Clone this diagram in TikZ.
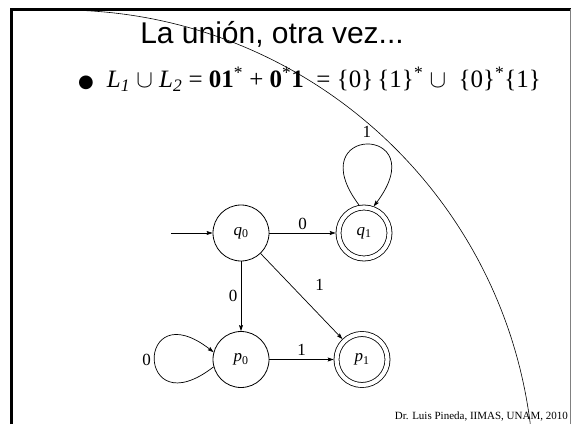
\documentclass[tikz,border=0pt]{standalone}
\usepackage{fontspec}
\setmainfont{Liberation Serif}
\newfontfamily\titlefont{Liberation Sans}
\newfontfamily\symbolfont{DejaVu Sans}
\usetikzlibrary{arrows.meta}

\tikzset{
  state/.style={draw,circle,line width=0.8pt,minimum size=56pt,inner sep=0pt,
    font=\fontsize{17}{17}\selectfont},
  final/.style={state,double,double distance=4.2pt,minimum size=51pt,outer sep=2.8pt},
  trans/.style={->,line width=0.7pt},
  lbl/.style={font=\fontsize{17}{17}\selectfont}
}

\begin{document}
\begin{tikzpicture}[x=1pt,y=1pt,>={Stealth[length=6pt,width=4pt,inset=1pt]}]
    \useasboundingbox (0,0) rectangle (571,424);
    % slide frame and the curve across it
    \draw[line width=2.7pt] (11.2,0) -- (11.2,414.5) -- (571,414.5);
    \draw[gray,line width=1pt] (570,0) -- (570,414.5);
    \draw[line width=0.6pt] (61,-59) ++(90.7:473pt) arc[start angle=90.7,end angle=7.2,radius=473pt];
    % text
    \node[font=\titlefont\fontsize{30}{30}\selectfont,anchor=base] (title) at (272,380) {La unión, otra vez...};
    \node[font=\fontsize{25}{25}\selectfont,anchor=base west,inner sep=0pt] (bullet) at (78,336)
      {{\symbolfont\fontsize{18}{18}\selectfont ●}\hspace{13pt}\textit{L\textsubscript{1}} $\cup$ \textit{L\textsubscript{2}} = \textbf{01}\textsuperscript{*} + \textbf{0}\textsuperscript{*}\textbf{1} \ = \{0\}\,\{1\}\textsuperscript{*} $\cup$ \ \{0\}\textsuperscript{*}\{1\}};
    \node[font=\fontsize{11}{11}\selectfont,anchor=base east,inner sep=0pt] (footer) at (568,5) {Dr. Luis Pineda, IIMAS, UNAM, 2010};
    % automaton
    \node[state] (q0) at (241,191) {\textit{q}\textsubscript{0}};
    \node[final] (q1) at (364,191) {\textit{q}\textsubscript{1}};
    \node[state] (p0) at (241,64.5) {\textit{p}\textsubscript{0}};
    \node[final] (p1) at (362,64.5) {\textit{p}\textsubscript{1}};
    \coordinate (start) at (171,191);
    \draw[trans] (start) -- (q0);
    \draw[trans] (q0) -- node[lbl,above]{0} (q1);
    \draw[trans] (q0) -- node[lbl,left]{0} (p0);
    \draw[trans] (q0) -- node[lbl,pos=0.55,above right=6pt]{1} (p1);
    \draw[trans] (p0) -- node[lbl,above]{1} (p1);
    \draw[trans] (q1.100) .. controls (298,300) and (436,300) .. node[lbl,above=3pt]{1} (q1.70);
    \draw[trans] (p0.195) .. controls (135,-4) and (135,133) .. node[lbl,left]{0} (p0.165);
\end{tikzpicture}
\end{document}
